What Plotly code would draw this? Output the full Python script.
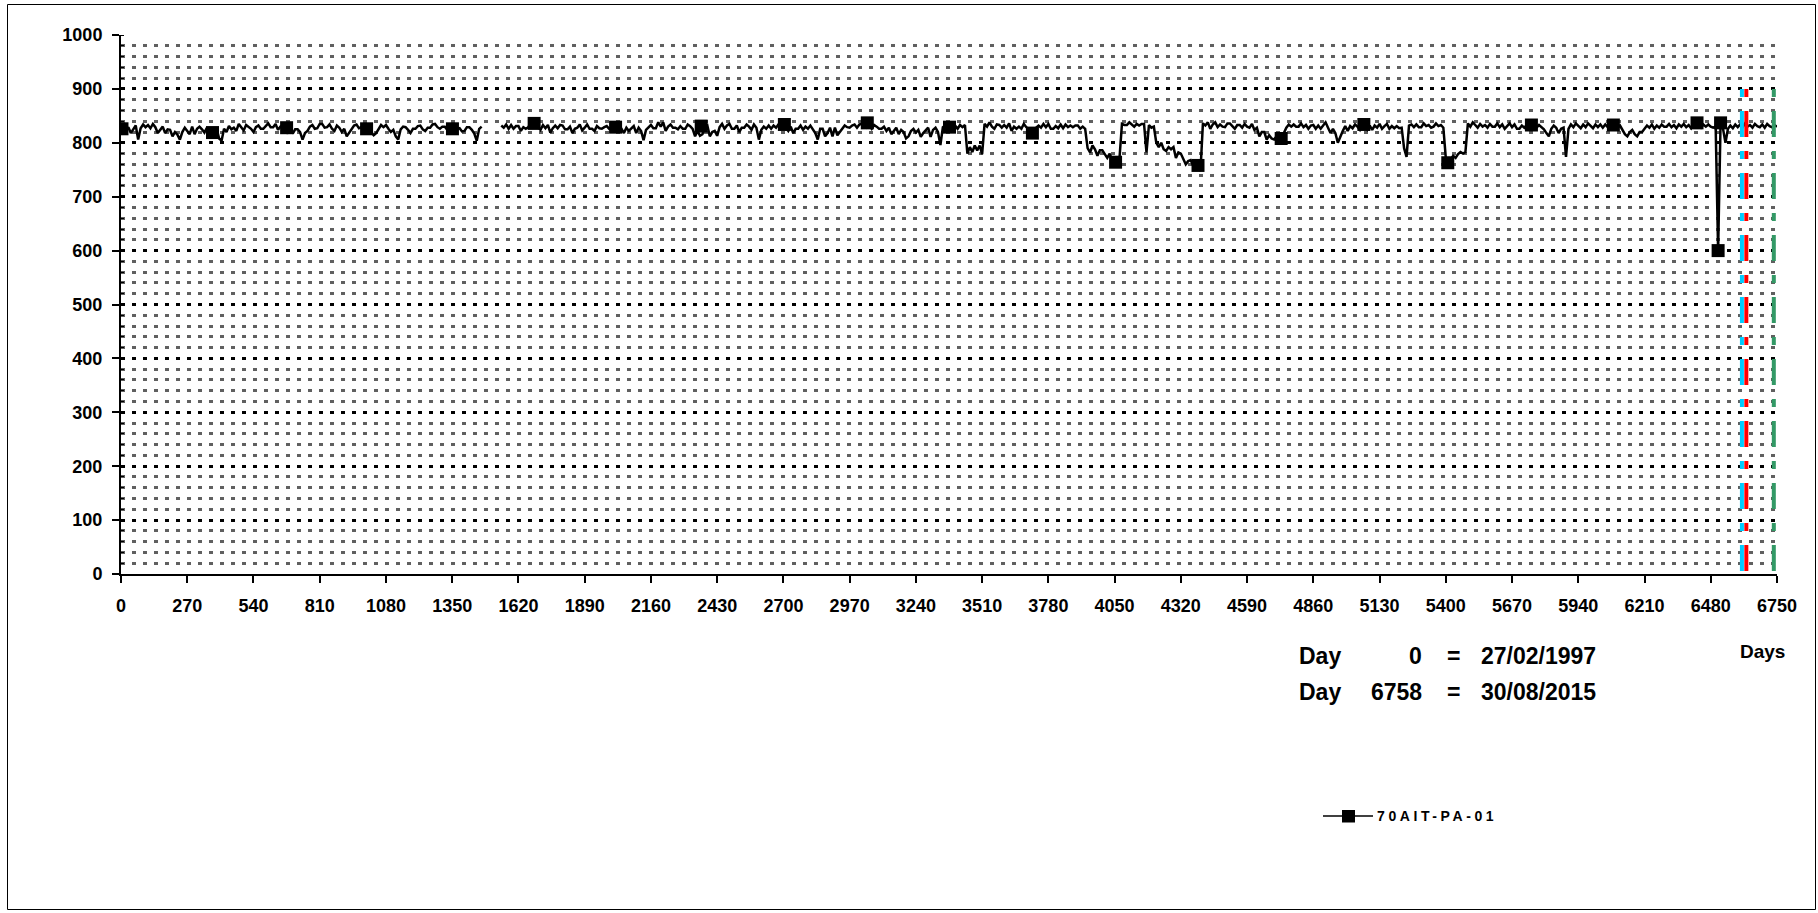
import plotly.graph_objects as go

# ---------------- data ----------------
# readings every 10 days, from day 0 to day 6750 (None = no data)
values = [
    826, 831, 822, 829, 818, 826, 832, 806, 827, 834,
    829, 833, 827, 835, 829, 818, 824, 830, 818, 825,
    824, 812, 820, 815, 806, 820, 828, 822, 816, 830,
    816, 826, 830, 825, 819, 828, 818, 821, 812, 826,
    808, 804, 826, 820, 831, 825, 828, 822, 835, 829,
    823, 833, 830, 826, 820, 829, 832, 826, 826, 831,
    836, 829, 829, 835, 824, 830, 828, 826, 817, 828,
    817, 825, 825, 820, 806, 818, 822, 830, 833, 826,
    827, 835, 835, 828, 829, 834, 826, 822, 832, 828,
    820, 826, 812, 818, 826, 832, 834, 827, 829, 833,
    826, 821, 820, 814, 818, 827, 833, 829, 833, 826,
    820, 824, 812, 806, 825, 830, 829, 824, 818, 826,
    826, 831, 832, 825, 822, 828, 828, 834, 835, 829,
    826, 830, 830, 824, 825, 829, 818, 826, 827, 821,
    822, 829, 829, 824, 817, 804, 826, 830, None, None,
    None, None, None, None, None, 832, 828, 834, 826, 833,
    826, 831, 831, 822, 829, 826, 829, 836, 838, 830,
    830, 824, 833, 827, 833, 819, 827, 832, 827, 833,
    832, 825, 825, 830, 818, 826, 828, 834, 823, 828,
    834, 826, 826, 822, 831, 827, 826, 829, 831, 826,
    829, 822, 831, 826, 826, 818, 828, 822, 826, 831,
    818, 828, 822, 805, 824, 828, 833, 827, 827, 838,
    830, 838, 822, 830, 834, 828, 828, 825, 831, 826,
    826, 834, 831, 826, 812, 822, 813, 816, 829, 832,
    812, 820, 822, 813, 829, 835, 826, 832, 835, 826,
    826, 832, 820, 828, 828, 834, 830, 824, 834, 828,
    806, 824, 830, 826, 832, 826, 832, 828, 834, 833,
    834, 828, 822, 830, 818, 826, 826, 832, 824, 830,
    826, 832, 824, 818, 806, 826, 826, 812, 818, 828,
    812, 828, 814, 820, 826, 832, 829, 828, 832, 834,
    828, 834, 835, 838, 829, 833, 826, 833, 830, 826,
    826, 830, 822, 828, 816, 822, 828, 816, 824, 820,
    808, 812, 822, 826, 819, 824, 811, 818, 824, 828,
    811, 824, 828, 820, 796, 829, 832, 829, 830, 826,
    832, 826, 833, 829, 833, 780, 792, 783, 795, 786,
    795, 779, 835, 830, 838, 830, 826, 834, 833, 828,
    833, 828, 836, 822, 830, 826, 830, 826, 835, 829,
    826, 818, 824, 828, 832, 828, 835, 829, 835, 826,
    826, 831, 827, 834, 827, 834, 829, 832, 829, 832,
    832, 826, 830, 826, 790, 782, 795, 788, 776, 786,
    786, 779, 772, 780, 768, 764, 770, 772, 835, 833,
    833, 838, 834, 830, 835, 832, 835, 835, 782, 833,
    828, 830, 800, 792, 800, 788, 785, 792, 788, 792,
    772, 782, 780, 770, 760, 766, 768, 758, 754, 756,
    748, 836, 832, 838, 826, 834, 838, 829, 834, 830,
    829, 836, 836, 831, 826, 833, 833, 828, 835, 830,
    828, 835, 824, 828, 812, 820, 820, 806, 814, 808,
    806, 812, 808, 814, 818, 828, 834, 830, 834, 830,
    830, 836, 829, 833, 826, 832, 833, 826, 832, 826,
    832, 838, 828, 818, 826, 818, 800, 812, 822, 831,
    822, 831, 827, 834, 830, 824, 834, 830, 824, 832,
    824, 832, 828, 835, 826, 831, 835, 826, 831, 827,
    831, 827, 828, 790, 774, 832, 834, 829, 834, 829,
    829, 836, 831, 833, 828, 830, 836, 831, 833, 828,
    772, 763, 770, 776, 772, 779, 783, 780, 783, 836,
    830, 838, 833, 828, 835, 830, 833, 828, 835, 830,
    830, 836, 829, 834, 826, 832, 836, 829, 834, 826,
    826, 832, 828, 833, 829, 825, 832, 828, 833, 829,
    825, 818, 812, 826, 832, 828, 818, 826, 828, 774,
    826, 834, 829, 836, 831, 827, 834, 829, 836, 831,
    827, 834, 829, 834, 828, 834, 829, 832, 834, 828,
    828, 832, 824, 816, 812, 820, 824, 816, 812, 820,
    820, 826, 832, 828, 834, 826, 832, 828, 834, 830,
    830, 835, 829, 833, 827, 834, 830, 835, 829, 833,
    827, 834, 838, 832, 828, 834, 830, 834, 830, 828,
    830, 600, 837, 826, 800, 826, 832, 827, 834, 829,
    834, 829, 836, 830, 833, 828, 835, 831, 829, 834,
    828, 835, 831, 829, 833, 830,
]
days = list(range(0, 10 * len(values), 10))

marker_days = [4, 373, 675, 1001, 1351, 1684, 2016, 2365, 2704, 3042, 3377, 3715, 4054, 4390,
               4729, 5066, 5408, 5749, 6083, 6424, 6510, 6520]
marker_values = [826, 819, 828, 826, 826, 836, 829, 831, 834, 837, 829, 818, 764, 758,
                 808, 834, 763, 833, 833, 837, 600, 837]

event_days = [6607, 6625, 6737]
event_colors = ["#00CCFF", "#FF0000", "#339966"]
event_top = 900

x_ticks = [0, 270, 540, 810, 1080, 1350, 1620, 1890, 2160, 2430, 2700, 2970, 3240, 3510, 3780,
           4050, 4320, 4590, 4860, 5130, 5400, 5670, 5940, 6210, 6480, 6750]
date_rows = [["Day", "0", "=", "27/02/1997"], ["Day", "6758", "=", "30/08/2015"]]
series_name = "70AIT-PA-01"
x_title = "Days"

# ---------------- layout geometry (pixels) ----------------
W, H = 1818, 913
ML, MR, MT, MB = 121, 41, 35, 339
PW, PH = W - ML - MR, H - MT - MB


def px(x):
    return (x - ML) / PW


def py(y):
    return (H - MB - y) / PH


FONT = "Liberation Sans, Arial, sans-serif"

fig = go.Figure()

fig.add_trace(go.Scatter(x=days, y=values, mode="lines", connectgaps=False,
                         line=dict(color="black", width=2.5), showlegend=False, hoverinfo="skip"))
fig.add_trace(go.Scatter(x=marker_days, y=marker_values, mode="markers",
                         marker=dict(symbol="square", size=13, color="black"),
                         showlegend=False, hoverinfo="skip"))
for d, c in zip(event_days, event_colors):
    fig.add_trace(go.Scatter(x=[d, d], y=[event_top, 0], mode="lines",
                             line=dict(color=c, width=4, dash="8px,14px,26px,14px"),
                             showlegend=False, hoverinfo="skip"))

tickfont = dict(family=FONT, size=18, color="black", weight="bold")

fig.update_layout(
    width=W, height=H, autosize=False,
    margin=dict(l=ML, r=MR, t=MT, b=MB, pad=0),
    paper_bgcolor="white", plot_bgcolor="white",
    showlegend=False,
    xaxis=dict(range=[0, 6750], tickmode="array", tickvals=x_ticks,
               ticktext=[str(t) for t in x_ticks],
               ticks="outside", ticklen=7, tickwidth=1.5, tickcolor="black",
               showline=True, linecolor="black", linewidth=2,
               showgrid=False, zeroline=False, tickfont=tickfont,
               ticklabelstandoff=7),
    yaxis=dict(range=[0, 1000], tick0=0, dtick=100,
               ticks="outside", ticklen=7, tickwidth=1.5, tickcolor="black",
               showline=True, linecolor="black", linewidth=2,
               showgrid=True, gridcolor="black", gridwidth=2.5, griddash="4px,7px",
               zeroline=False, tickfont=tickfont, ticklabelstandoff=6,
               minor=dict(tick0=0, dtick=20, showgrid=True, gridcolor="#606060",
                          gridwidth=2.5, griddash="4px,7px",
                          ticks="inside", ticklen=3, tickcolor="black", tickwidth=1)),
)

shapes = []
# outer chart frame
shapes.append(dict(type="rect", xref="paper", yref="paper",
                   x0=px(7.5), x1=px(1815.5), y0=py(909.5), y1=py(4.5),
                   line=dict(color="black", width=1), fillcolor="rgba(0,0,0,0)", layer="below"))
# manual legend
shapes.append(dict(type="line", xref="paper", yref="paper",
                   x0=px(1323), x1=px(1373), y0=py(816), y1=py(816),
                   line=dict(color="black", width=1.5)))
shapes.append(dict(type="rect", xref="paper", yref="paper",
                   x0=px(1342), x1=px(1355), y0=py(822.5), y1=py(810),
                   line=dict(width=0), fillcolor="black"))
fig.update_layout(shapes=shapes)

annotations = []
rows_y = [655.5, 691.5]
for row, yy in zip(date_rows, rows_y):
    annotations.append(dict(text=row[0], x=px(1296.5), y=py(yy), xanchor="left", yanchor="middle"))
    annotations.append(dict(text=row[1], x=px(1423.5), y=py(yy), xanchor="right", yanchor="middle"))
    annotations.append(dict(text=row[2], x=px(1453.5), y=py(yy), xanchor="center", yanchor="middle"))
    annotations.append(dict(text=row[3], x=px(1478.5), y=py(yy), xanchor="left", yanchor="middle"))
for a in annotations:
    a.update(xref="paper", yref="paper", showarrow=False,
             font=dict(family=FONT, size=23, color="black", weight="bold"))

annotations.append(dict(text=x_title, x=px(1738), y=py(651), xref="paper", yref="paper",
                        xanchor="left", yanchor="middle", showarrow=False,
                        font=dict(family=FONT, size=19, color="black", weight="bold")))
annotations.append(dict(text='<span style="letter-spacing:3.6px">' + series_name + '</span>',
                        x=px(1375), y=py(816), xref="paper", yref="paper",
                        xanchor="left", yanchor="middle", showarrow=False,
                        font=dict(family=FONT, size=14, color="black", weight="bold")))
fig.update_layout(annotations=annotations)

fig.write_html("out.html")
